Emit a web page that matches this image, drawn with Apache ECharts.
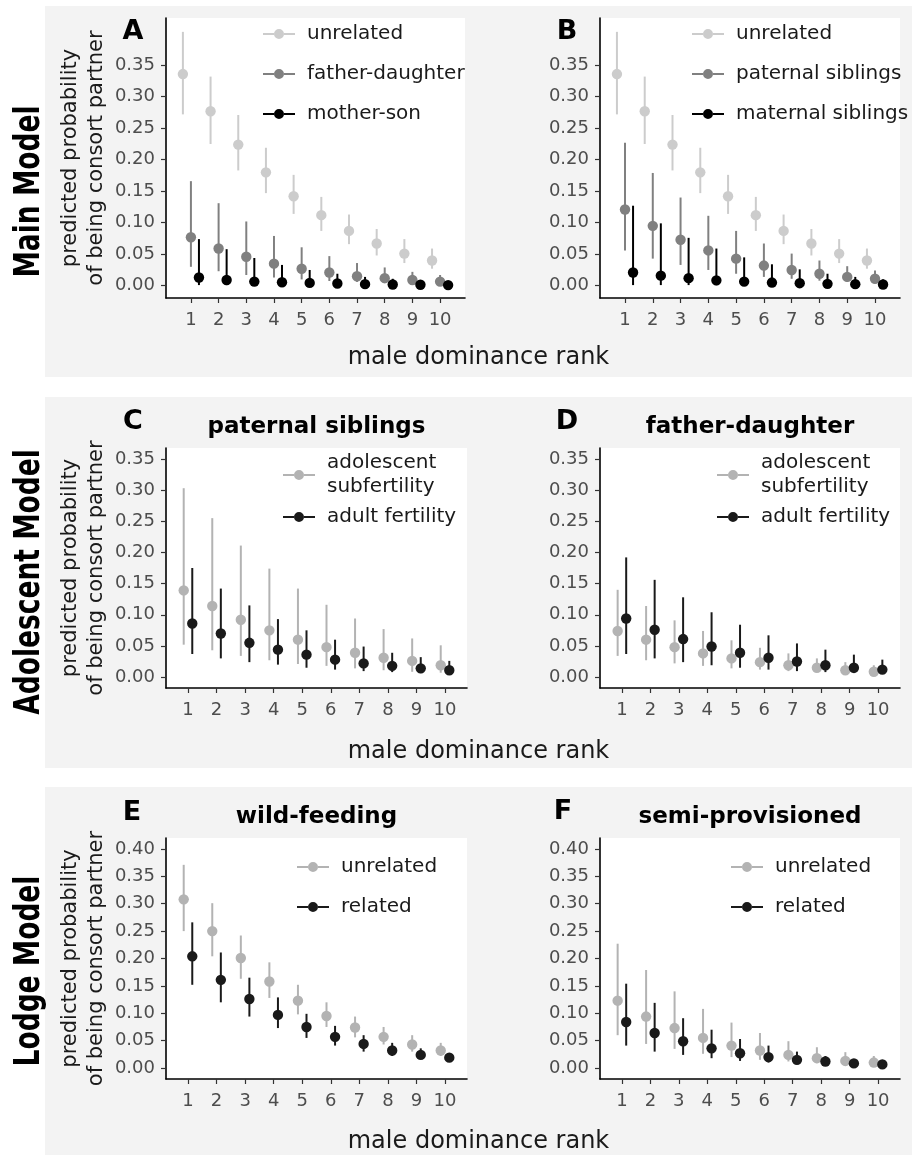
<!DOCTYPE html>
<html>
<head>
<meta charset="utf-8">
<script src="https://cdn.jsdelivr.net/npm/echarts@6/dist/echarts.min.js"></script>
<style>html,body{margin:0;padding:0;background:#fff}#c{width:912px;height:1155px}</style>
</head>
<body>
<div id="c"></div>
<script>
// ---------- data ----------
const ranks = [1, 2, 3, 4, 5, 6, 7, 8, 9, 10];
const yTicks035 = [0, 0.05, 0.10, 0.15, 0.20, 0.25, 0.30, 0.35];
const yTicks040 = [0, 0.05, 0.10, 0.15, 0.20, 0.25, 0.30, 0.35, 0.40];

// Main model (A, B)
const unrelMain_est = [0.336, 0.277, 0.224, 0.180, 0.142, 0.112, 0.087, 0.067, 0.051, 0.040];
const unrelMain_lo  = [0.272, 0.225, 0.183, 0.147, 0.114, 0.087, 0.066, 0.048, 0.036, 0.027];
const unrelMain_hi  = [0.403, 0.332, 0.271, 0.219, 0.176, 0.141, 0.113, 0.090, 0.074, 0.059];

const fatherDaughter_est = [0.077, 0.059, 0.046, 0.035, 0.027, 0.021, 0.015, 0.012, 0.009, 0.0065];
const fatherDaughter_lo  = [0.030, 0.023, 0.017, 0.013, 0.010, 0.0075, 0.006, 0.004, 0.003, 0.002];
const fatherDaughter_hi  = [0.166, 0.131, 0.102, 0.079, 0.061, 0.047, 0.036, 0.029, 0.022, 0.017];

const motherSon_est = [0.013, 0.009, 0.0065, 0.0055, 0.0045, 0.0035, 0.0025, 0.002, 0.0015, 0.001];
const motherSon_lo  = [0.001, 0.001, 0.0005, 0.0004, 0.0003, 0.0002, 0.0002, 0.0001, 0.0001, 0.0001];
const motherSon_hi  = [0.074, 0.058, 0.044, 0.033, 0.025, 0.019, 0.014, 0.011, 0.009, 0.006];

const paternalSib_est = [0.121, 0.095, 0.073, 0.056, 0.043, 0.032, 0.025, 0.019, 0.014, 0.011];
const paternalSib_lo  = [0.056, 0.043, 0.033, 0.025, 0.019, 0.014, 0.011, 0.008, 0.006, 0.004];
const paternalSib_hi  = [0.227, 0.179, 0.140, 0.111, 0.087, 0.067, 0.051, 0.040, 0.031, 0.024];

const maternalSib_est = [0.021, 0.016, 0.012, 0.0085, 0.0065, 0.005, 0.004, 0.003, 0.0025, 0.002];
const maternalSib_lo  = [0.001, 0.001, 0.001, 0.0008, 0.0006, 0.0005, 0.0004, 0.0003, 0.0002, 0.0002];
const maternalSib_hi  = [0.127, 0.099, 0.076, 0.059, 0.045, 0.034, 0.026, 0.019, 0.014, 0.010];

// Adolescent model (C: paternal siblings, D: father-daughter)
const C_adol_est = [0.139, 0.114, 0.092, 0.075, 0.060, 0.048, 0.039, 0.031, 0.026, 0.019];
const C_adol_lo  = [0.052, 0.043, 0.034, 0.027, 0.021, 0.018, 0.014, 0.011, 0.0085, 0.007];
const C_adol_hi  = [0.303, 0.255, 0.211, 0.174, 0.142, 0.116, 0.094, 0.077, 0.062, 0.051];
const C_adult_est = [0.086, 0.070, 0.055, 0.044, 0.036, 0.028, 0.022, 0.018, 0.014, 0.011];
const C_adult_lo  = [0.037, 0.030, 0.024, 0.020, 0.015, 0.012, 0.0096, 0.008, 0.0064, 0.005];
const C_adult_hi  = [0.175, 0.142, 0.115, 0.093, 0.075, 0.060, 0.049, 0.039, 0.032, 0.026];

const D_adol_est = [0.074, 0.060, 0.048, 0.038, 0.030, 0.024, 0.019, 0.015, 0.011, 0.0085];
const D_adol_lo  = [0.034, 0.027, 0.022, 0.018, 0.014, 0.012, 0.0096, 0.008, 0.0064, 0.005];
const D_adol_hi  = [0.140, 0.114, 0.091, 0.074, 0.059, 0.047, 0.038, 0.030, 0.024, 0.019];
const D_adult_est = [0.094, 0.076, 0.061, 0.049, 0.039, 0.031, 0.025, 0.019, 0.015, 0.012];
const D_adult_lo  = [0.037, 0.030, 0.024, 0.019, 0.015, 0.012, 0.0096, 0.008, 0.0064, 0.005];
const D_adult_hi  = [0.192, 0.156, 0.128, 0.104, 0.084, 0.067, 0.054, 0.044, 0.036, 0.028];

// Lodge model (E: wild-feeding, F: semi-provisioned)
const E_unrel_est = [0.308, 0.250, 0.201, 0.158, 0.123, 0.095, 0.074, 0.057, 0.043, 0.032];
const E_unrel_lo  = [0.250, 0.204, 0.163, 0.128, 0.098, 0.075, 0.056, 0.043, 0.030, 0.022];
const E_unrel_hi  = [0.371, 0.301, 0.242, 0.193, 0.152, 0.120, 0.094, 0.075, 0.060, 0.046];
const E_rel_est = [0.204, 0.161, 0.126, 0.097, 0.075, 0.057, 0.044, 0.032, 0.024, 0.019];
const E_rel_lo  = [0.152, 0.120, 0.094, 0.073, 0.055, 0.041, 0.030, 0.022, 0.017, 0.013];
const E_rel_hi  = [0.266, 0.211, 0.165, 0.129, 0.099, 0.077, 0.060, 0.046, 0.036, 0.027];

const F_unrel_est = [0.123, 0.094, 0.073, 0.055, 0.041, 0.032, 0.024, 0.018, 0.013, 0.010];
const F_unrel_lo  = [0.060, 0.044, 0.035, 0.026, 0.020, 0.015, 0.012, 0.009, 0.0067, 0.0055];
const F_unrel_hi  = [0.227, 0.179, 0.140, 0.108, 0.083, 0.064, 0.049, 0.038, 0.029, 0.022];
const F_rel_est = [0.084, 0.064, 0.049, 0.036, 0.027, 0.020, 0.015, 0.012, 0.0085, 0.0067];
const F_rel_lo  = [0.041, 0.030, 0.024, 0.018, 0.013, 0.010, 0.008, 0.006, 0.005, 0.004];
const F_rel_hi  = [0.154, 0.119, 0.091, 0.070, 0.053, 0.041, 0.030, 0.022, 0.016, 0.012];

// ---------- layout / style ----------
const FONT = 'DejaVu Sans';
const C_LIGHT = '#cccccc', C_MID = '#808080', C_BLACK = '#000000';
const C_G70 = '#b3b3b3', C_G10 = '#1a1a1a';

const panels = [
  { key: 'A', grid: { left: 166, top: 18, width: 299, height: 280 }, x: [0.1, 10.9], y: [-0.0195, 0.425], yt: yTicks035, dodge: 0.29,
    legend: { left: 258, top: 18, gap: 18 },
    groups: [
      { name: 'unrelated', color: C_LIGHT, est: unrelMain_est, lo: unrelMain_lo, hi: unrelMain_hi },
      { name: 'father-daughter', color: C_MID, est: fatherDaughter_est, lo: fatherDaughter_lo, hi: fatherDaughter_hi },
      { name: 'mother-son', color: C_BLACK, est: motherSon_est, lo: motherSon_lo, hi: motherSon_hi }
    ] },
  { key: 'B', grid: { left: 600, top: 18, width: 300, height: 280 }, x: [0.1, 10.9], y: [-0.0195, 0.425], yt: yTicks035, dodge: 0.29,
    legend: { left: 687, top: 18, gap: 18 },
    groups: [
      { name: 'unrelated', color: C_LIGHT, est: unrelMain_est, lo: unrelMain_lo, hi: unrelMain_hi },
      { name: 'paternal siblings', color: C_MID, est: paternalSib_est, lo: paternalSib_lo, hi: paternalSib_hi },
      { name: 'maternal siblings', color: C_BLACK, est: maternalSib_est, lo: maternalSib_lo, hi: maternalSib_hi }
    ] },
  { key: 'C', grid: { left: 166, top: 448, width: 301, height: 240 }, x: [0.23, 10.77], y: [-0.0175, 0.3675], yt: yTicks035, dodge: 0.15,
    legend: { left: 278, top: 446, gap: 6, lh: 24 },
    groups: [
      { name: 'adolescent\nsubfertility', color: C_G70, est: C_adol_est, lo: C_adol_lo, hi: C_adol_hi },
      { name: 'adult fertility', color: C_G10, est: C_adult_est, lo: C_adult_lo, hi: C_adult_hi }
    ] },
  { key: 'D', grid: { left: 600, top: 448, width: 300, height: 240 }, x: [0.23, 10.77], y: [-0.0175, 0.3675], yt: yTicks035, dodge: 0.15,
    legend: { left: 712, top: 446, gap: 6, lh: 24 },
    groups: [
      { name: 'adolescent\nsubfertility', color: C_G70, est: D_adol_est, lo: D_adol_lo, hi: D_adol_hi },
      { name: 'adult fertility', color: C_G10, est: D_adult_est, lo: D_adult_lo, hi: D_adult_hi }
    ] },
  { key: 'E', grid: { left: 166, top: 838, width: 301, height: 241 }, x: [0.23, 10.77], y: [-0.02, 0.42], yt: yTicks040, dodge: 0.15,
    legend: { left: 292, top: 851, gap: 18 },
    groups: [
      { name: 'unrelated', color: C_G70, est: E_unrel_est, lo: E_unrel_lo, hi: E_unrel_hi },
      { name: 'related', color: C_G10, est: E_rel_est, lo: E_rel_lo, hi: E_rel_hi }
    ] },
  { key: 'F', grid: { left: 600, top: 838, width: 300, height: 241 }, x: [0.23, 10.77], y: [-0.02, 0.42], yt: yTicks040, dodge: 0.15,
    legend: { left: 726, top: 851, gap: 18 },
    groups: [
      { name: 'unrelated', color: C_G70, est: F_unrel_est, lo: F_unrel_lo, hi: F_unrel_hi },
      { name: 'related', color: C_G10, est: F_rel_est, lo: F_rel_lo, hi: F_rel_hi }
    ] }
];

const LEGEND_ICON = 'path://M0,4H11V6H0Z M21,4H32V6H21Z M11,5A5,5 0 1,1 21,5A5,5 0 1,1 11,5Z';

function renderPointRange(color) {
  return function (params, api) {
    const x = api.value(0), y = api.value(1), lo = api.value(2), hi = api.value(3);
    const p = api.coord([x, y]);
    const a = api.coord([x, lo]);
    const b = api.coord([x, hi]);
    return {
      type: 'group',
      children: [
        { type: 'line', shape: { x1: a[0], y1: a[1], x2: b[0], y2: b[1] }, style: { stroke: color, lineWidth: 2 } },
        { type: 'circle', shape: { cx: p[0], cy: p[1], r: 5.2 }, style: { fill: color } }
      ]
    };
  };
}

const grids = [], xAxes = [], yAxes = [], series = [], legends = [];
panels.forEach((pn, gi) => {
  grids.push(Object.assign({ show: true, backgroundColor: '#ffffff', borderWidth: 0, containLabel: false }, pn.grid));
  xAxes.push({
    type: 'value', gridIndex: gi, min: pn.x[0], max: pn.x[1],
    axisLine: { show: true, onZero: false, lineStyle: { color: '#000', width: 1.6 } },
    axisTick: { show: true, length: 5, customValues: ranks, lineStyle: { color: '#333', width: 1.2 } },
    axisLabel: { customValues: ranks, fontSize: 18, color: '#4d4d4d', margin: 13, fontFamily: FONT },
    splitLine: { show: false }
  });
  yAxes.push({
    type: 'value', gridIndex: gi, min: pn.y[0], max: pn.y[1],
    axisLine: { show: true, onZero: false, lineStyle: { color: '#000', width: 1.6 } },
    axisTick: { show: true, length: 5, customValues: pn.yt, lineStyle: { color: '#333', width: 1.2 } },
    axisLabel: { customValues: pn.yt, fontSize: 18, color: '#4d4d4d', margin: 11, fontFamily: FONT,
                 formatter: v => Number(v).toFixed(2) },
    splitLine: { show: false }
  });
  const n = pn.groups.length;
  const names = [];
  pn.groups.forEach((g, k) => {
    const off = (k - (n - 1) / 2) * pn.dodge * (n === 3 ? 1 : 2);
    const sname = g.name + '|' + pn.key;
    names.push(sname);
    series.push({
      type: 'custom', name: sname, xAxisIndex: gi, yAxisIndex: gi,
      itemStyle: { color: g.color },
      renderItem: renderPointRange(g.color),
      encode: { x: 0, y: [1, 2, 3] },
      data: ranks.map((r, i) => [r + off, g.est[i], g.lo[i], g.hi[i]]),
      silent: true, animation: false
    });
  });
  legends.push({
    orient: 'vertical', left: pn.legend.left, top: pn.legend.top,
    itemWidth: 32, itemHeight: 10, itemGap: pn.legend.gap,
    icon: LEGEND_ICON, selectedMode: false,
    data: names.map((nm, k) => ({ name: nm, icon: LEGEND_ICON, itemStyle: { color: pn.groups[k].color } })),
    formatter: nm => nm.split('|')[0],
    textStyle: { fontSize: 20, color: '#1a1a1a', fontFamily: FONT, lineHeight: pn.legend.lh || 22, padding: [0, 0, 0, 7] }
  });
});

// ---------- annotations ----------
const graphics = [];
[[6, 371], [397, 371], [787, 368]].forEach(([top, h]) => {
  graphics.push({ type: 'rect', z: -10, shape: { x: 45, y: top, width: 867, height: h }, style: { fill: '#f3f3f3' }, silent: true });
});
function txt(x, y, text, size, weight, rot, extra, scaleY) {
  return {
    type: 'text', x: x, y: y, rotation: rot || 0, scaleY: scaleY || 1, silent: true, z: 10,
    style: Object.assign({ text: text, fill: '#000', font: (weight || 'normal') + ' ' + size + 'px "' + FONT + '"',
      align: 'center', verticalAlign: 'middle' }, extra || {})
  };
}
const rowTitles = [['Main Model', 191.5], ['Adolescent Model', 582], ['Lodge Model', 971]];
rowTitles.forEach(([t, cy]) => graphics.push(txt(30, cy, t, 26.5, 'bold', Math.PI / 2, null, 1.32)));
[158, 568, 958.5].forEach(cy => graphics.push(txt(84, cy, 'predicted probability\nof being consort partner', 21, 'normal', Math.PI / 2, { lineHeight: 26, fill: '#1a1a1a' })));
[358, 752, 1142].forEach(cy => graphics.push(txt(478.5, cy, 'male dominance rank', 24, 'normal', 0, { fill: '#1a1a1a' })));
[['A', 133, 32], ['B', 567, 32], ['C', 133, 422], ['D', 567, 422], ['E', 132, 813], ['F', 563, 812]]
  .forEach(([t, x, y]) => graphics.push(txt(x, y, t, 27, 'bold', 0)));
[['paternal siblings', 316.5, 427], ['father-daughter', 750, 427], ['wild-feeding', 316.5, 817], ['semi-provisioned', 750, 817]]
  .forEach(([t, x, y]) => graphics.push(txt(x, y, t, 23, 'bold', 0)));

const chart = echarts.init(document.getElementById('c'), null, { renderer: 'canvas' });
chart.setOption({
  animation: false,
  backgroundColor: '#ffffff',
  textStyle: { fontFamily: FONT },
  grid: grids, xAxis: xAxes, yAxis: yAxes, series: series, legend: legends,
  graphic: { elements: graphics }
});
</script>
</body>
</html>
